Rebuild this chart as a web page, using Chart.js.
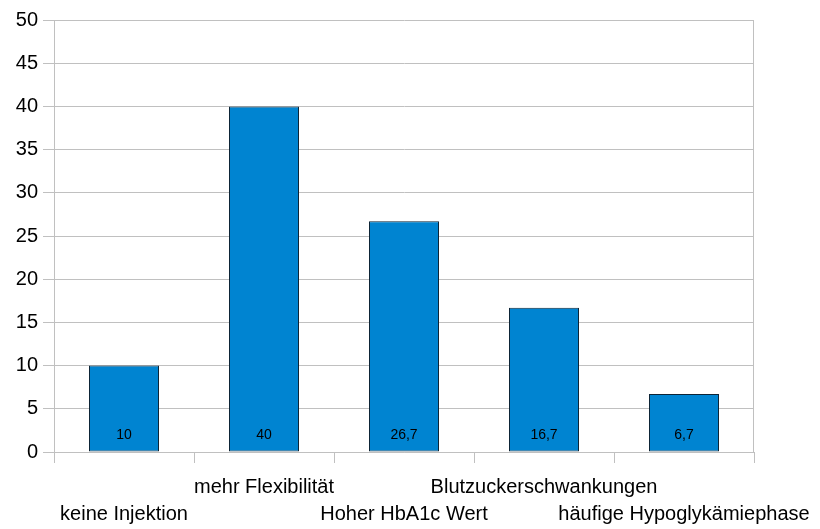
<!DOCTYPE html>
<html>
<head>
<meta charset="utf-8">
<script src="https://cdn.jsdelivr.net/npm/chart.js@4/dist/chart.umd.min.js"></script>
<style>
  html, body { margin: 0; padding: 0; background: #ffffff; }
  #wrap { width: 820px; height: 529px; }
</style>
</head>
<body>
<div id="wrap"><canvas id="c" width="820" height="529"></canvas></div>
<script>
// Reasons named, in percent
const categories = [
  'keine Injektion',
  'mehr Flexibilität',
  'Hoher HbA1c Wert',
  'Blutzuckerschwankungen',
  'häufige Hypoglykämiephase'
];
const values = [10, 40, 26.7, 16.7, 6.7];
const yTicks = [0, 5, 10, 15, 20, 25, 30, 35, 40, 45, 50];

// Alternate the category names between two rows so long names don't collide
const staggered = categories.map((c, i) => (i % 2 === 0 ? ['', c] : [c, '']));

const FONT = 'Liberation Sans, Arial, sans-serif';
const GRID = '#c0c0c0';

// Value written near the foot of each bar, plus the right frame line
const barValues = {
  id: 'barValues',
  afterDatasetsDraw(chart) {
    const ctx = chart.ctx;
    const meta = chart.getDatasetMeta(0);
    const y0 = chart.scales.y.getPixelForValue(0);
    ctx.save();
    ctx.font = '14px ' + FONT;
    ctx.fillStyle = '#000000';
    ctx.textAlign = 'center';
    ctx.textBaseline = 'middle';
    meta.data.forEach((bar, i) => {
      const txt = String(values[i]).replace('.', ',');
      ctx.fillText(txt, bar.x, y0 - 17);
    });
    ctx.restore();
  },
  beforeDatasetsDraw(chart) {
    const { ctx, chartArea } = chart;
    ctx.save();
    ctx.strokeStyle = GRID;
    ctx.lineWidth = 1;
    ctx.beginPath();
    const x = Math.round(chartArea.right) - 0.5;
    ctx.moveTo(x, chartArea.top);
    ctx.lineTo(x, chartArea.bottom);
    ctx.stroke();
    ctx.restore();
  }
};

new Chart(document.getElementById('c'), {
  type: 'bar',
  data: {
    labels: staggered,
    datasets: [{
      data: values,
      backgroundColor: '#0084d1',
      borderColor: '#0d2436',
      borderWidth: 1,
      borderSkipped: false,
      barPercentage: 0.5,
      categoryPercentage: 1.0
    }]
  },
  options: {
    responsive: false,
    animation: false,
    layout: { padding: { top: 20, right: 66, left: 0, bottom: 0 } },
    plugins: { legend: { display: false }, tooltip: { enabled: false } },
    scales: {
      x: {
        offset: true,
        grid: {
          offset: true,
          drawOnChartArea: false,
          drawTicks: true,
          tickLength: 11,
          color: GRID
        },
        border: { display: true, color: GRID },
        ticks: {
          autoSkip: false,
          maxRotation: 0,
          padding: 11,
          color: '#000000',
          font: { family: FONT, size: 20, lineHeight: '27px' }
        },
        afterFit(scale) {
          scale.height = 77;
          scale.paddingLeft = 0;
          scale.paddingRight = 0;
        }
      },
      y: {
        min: 0,
        max: 50,
        afterBuildTicks(scale) { scale.ticks = yTicks.map(v => ({ value: v })); },
        grid: { color: GRID, tickLength: 11, drawTicks: true },
        border: { display: true, color: GRID },
        ticks: {
          padding: 5,
          color: '#000000',
          font: { family: FONT, size: 20 }
        },
        afterFit(scale) {
          scale.width = 54;
          scale.paddingTop = 0;
          scale.paddingBottom = 0;
        }
      }
    }
  },
  plugins: [barValues]
});
</script>
</body>
</html>
